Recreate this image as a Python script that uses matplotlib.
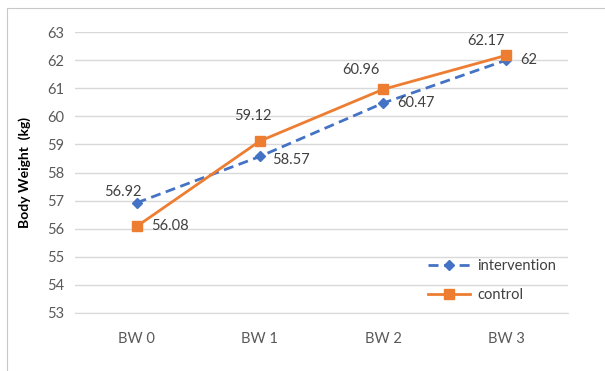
import matplotlib.pyplot as plt
from matplotlib.patches import Rectangle

categories = ['BW 0', 'BW 1', 'BW 2', 'BW 3']
intervention = [56.92, 58.57, 60.47, 62]
control = [56.08, 59.12, 60.96, 62.17]
y_ticks = list(range(53, 64))

blue = '#4472C4'
orange = '#ED7D31'
grid_c = '#D9D9D9'
text_c = '#404040'

plt.rcParams['font.family'] = ['Lato', 'DejaVu Sans']

fig = plt.figure(figsize=(6.05, 3.71), dpi=100)
# outer chart border
fig.patches.append(Rectangle((7 / 605, -0.1), 1.2, 1 - 8 / 371 + 0.1, transform=fig.transFigure,
                             fill=False, edgecolor='#C8C8C8', lw=0.8))

ax = fig.add_axes([75 / 605, 1 - 313 / 371, (568 - 75) / 605, (313 - 32) / 371])
x = list(range(len(categories)))

ax.plot(x, intervention, color=blue, ls=(0, (3.6, 2)), lw=2, marker='D', ms=5,
        label='intervention', zorder=3)
ax.plot(x, control, color=orange, lw=2, marker='s', ms=7, label='control', zorder=4)

# data label offsets in pixels (dx, dy up), centred text
int_off = [(-14, 11), (31, -4), (33, 0), (22, 0)]
ctl_off = [(33, 0), (-7, 25), (-22, 19), (-20, 14)]
k = 0.72  # px -> pt
for i in x:
    dx, dy = int_off[i]
    ax.annotate(f'{intervention[i]:g}', (x[i], intervention[i]), xytext=(dx * k, dy * k),
                textcoords='offset points', ha='center', va='center', fontsize=10.5, color=text_c)
    dx, dy = ctl_off[i]
    ax.annotate(f'{control[i]:g}', (x[i], control[i]), xytext=(dx * k, dy * k),
                textcoords='offset points', ha='center', va='center', fontsize=10.5, color=text_c)

ax.set_xlim(-0.5, 3.5)
ax.set_ylim(53, 63)
ax.set_yticks(y_ticks)
ax.set_xticks(x)
ax.set_xticklabels(categories)
ax.grid(axis='y', color=grid_c, lw=1)
ax.set_axisbelow(True)
for s in ['top', 'right', 'left']:
    ax.spines[s].set_visible(False)
ax.spines['bottom'].set_color(grid_c)
ax.tick_params(length=0, labelsize=10.5, colors='#595959', pad=8)
ax.tick_params(axis='x', pad=14)
ax.set_ylabel('Body Weight  (kg)', fontsize=10, fontweight='bold', color='black', labelpad=11)

leg = ax.legend(loc='upper left', bbox_to_anchor=((422 - 75) / 493, (313 - 253) / 281),
                frameon=False, fontsize=10.5, handlelength=2.9, handletextpad=0.5,
                labelspacing=1.05, borderaxespad=0)
for t in leg.get_texts():
    t.set_color(text_c)

fig.savefig('out.png', dpi=100)
